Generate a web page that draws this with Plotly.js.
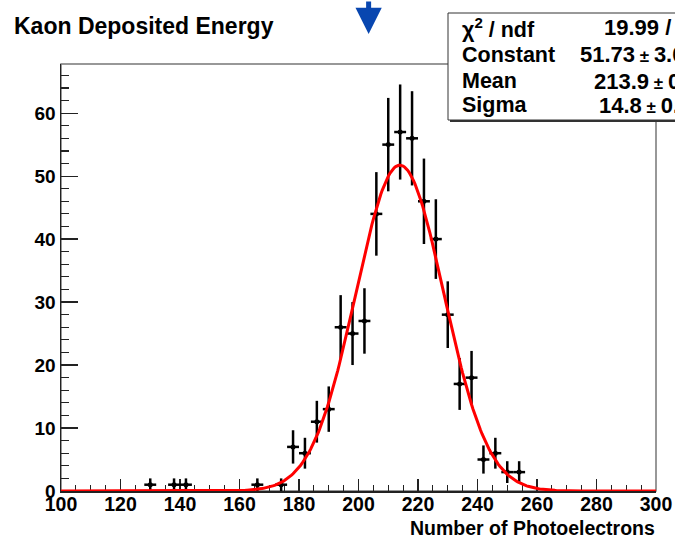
<!DOCTYPE html>
<html>
<head>
<meta charset="utf-8">
<script src="https://cdn.plot.ly/plotly-3.0.1.min.js"></script>
<style>
html,body{margin:0;padding:0;background:#fff;overflow:hidden;}
#chart{width:675px;height:538px;}
</style>
</head>
<body>
<div id="chart"></div>
<script>
// ---- data ----
const binCenters = [130, 138, 142, 166, 174, 178, 182, 186, 190, 194, 198, 202, 206, 210, 214, 218, 222, 226, 230, 234, 238, 242, 246, 250, 254];
const counts     = [1,   1,   1,   1,   1,   7,   6,   11,  13,  26,  25,  27,  44,  55,  57,  56,  46,  40,  28,  17,  18,  5,   6,   3,   3];
const halfBinWidth = 2;

// Gaussian fit parameters shown in the stats box
const fitConstant = 51.73;
const fitMean = 213.9;
const fitSigma = 14.8;
const fitRange = [100, 300];

const statLabels = ["χ<sup>2</sup> / ndf", "Constant", "Mean", "Sigma"];
const statNumbers = ["19.99", "51.73", "213.9", "14.8"];
const statSeparators = ["/", "±", "±", "±"];
const statErrors = ["22", "3.05", "0.8", "0.7"];

const xTicks = [100, 120, 140, 160, 180, 200, 220, 240, 260, 280, 300];
const yTicks = [0, 10, 20, 30, 40, 50, 60];

// ---- layout helpers (pixel -> paper) ----
const W = 675, H = 538;
const M = {l: 61, r: 19, t: 64, b: 47};
const PW = W - M.l - M.r, PH = H - M.t - M.b;
const pX = px => (px - M.l) / PW;
const pY = py => 1 - (py - M.t) / PH;

// fit curve from the fit parameters
const fitX = [], fitY = [];
for (let x = fitRange[0]; x <= fitRange[1] + 1e-9; x += 0.5) {
  fitX.push(x);
  fitY.push(fitConstant * Math.exp(-0.5 * Math.pow((x - fitMean) / fitSigma, 2)));
}

const FONT = "Liberation Sans, Arial, Helvetica, sans-serif";

const traces = [
  {
    type: "scatter", mode: "markers",
    x: binCenters, y: counts,
    marker: {color: "#000", size: 5},
    error_y: {type: "sqrt", color: "#000", thickness: 2.5, width: 0},
    error_x: {type: "constant", value: halfBinWidth, color: "#000", thickness: 2.5, width: 0},
    cliponaxis: false, hoverinfo: "x+y"
  },
  {
    type: "scatter", mode: "lines",
    x: fitX, y: fitY,
    line: {color: "#ff0000", width: 3},
    cliponaxis: false, hoverinfo: "skip"
  }
];

const annotations = [];
annotations.push({
  xref: "paper", yref: "paper", x: pX(12), y: pY(26), xanchor: "left", yanchor: "middle",
  text: "Kaon Deposited Energy", showarrow: false,
  font: {family: FONT, size: 23, color: "#000", weight: "bold"}
});
annotations.push({
  xref: "paper", yref: "paper", x: pX(657), y: pY(528), xanchor: "right", yanchor: "middle",
  text: "Number of Photoelectrons", showarrow: false,
  font: {family: FONT, size: 19.5, color: "#000", weight: "bold"}
});
// arrow
annotations.push({
  xref: "x", yref: "paper", x: 203.4, y: pY(34), text: "", showarrow: true,
  ax: 0, ay: -38, arrowhead: 2, arrowsize: 1.05, arrowwidth: 5, arrowcolor: "#0846b0", standoff: 0
});
// stats box text
const rowY = [28, 54.5, 81, 105];
const valStart = [602, 578, 592, 597];
const gap = "<span style='font-size:17px'>\u00A0</span>";
for (let i = 0; i < statLabels.length; i++) {
  annotations.push({
    xref: "paper", yref: "paper", x: pX(460), y: pY(rowY[i]), xanchor: "left", yanchor: "middle",
    text: statLabels[i], showarrow: false,
    font: {family: FONT, size: 21.5, color: "#000", weight: "bold"}
  });
  const txt = statSeparators[i] === "±"
    ? statNumbers[i] + gap + "<span style='font-size:17px'>±</span>" + gap + statErrors[i]
    : statNumbers[i] + " / " + statErrors[i];
  annotations.push({
    xref: "paper", yref: "paper", x: pX(valStart[i]), y: pY(rowY[i]), xanchor: "left", yanchor: "middle",
    text: txt, showarrow: false,
    font: {family: FONT, size: 22, color: "#000", weight: "bold"}
  });
}

const shapes = [
  // frame
  {type: "rect", xref: "paper", yref: "paper", x0: 0, x1: 1, y0: 0, y1: 1,
   line: {color: "#777", width: 1.5}, layer: "below"},
  // stats box shadow
  {type: "rect", xref: "paper", yref: "paper", x0: pX(450), x1: pX(720), y0: pY(122), y1: pY(15),
   line: {width: 0}, fillcolor: "#333", layer: "above"},
  // stats box
  {type: "rect", xref: "paper", yref: "paper", x0: pX(448), x1: pX(718), y0: pY(120), y1: pY(13),
   line: {color: "#333", width: 1}, fillcolor: "#fff", layer: "above"}
];

const layout = {
  width: W, height: H,
  margin: M,
  paper_bgcolor: "#fff", plot_bgcolor: "#fff",
  showlegend: false,
  font: {family: FONT, color: "#000"},
  xaxis: {
    range: [100, 300], showgrid: false, zeroline: false,
    showline: true, linecolor: "#222", linewidth: 1.5,
    tickmode: "array", tickvals: xTicks, ticktext: xTicks.map(String),
    ticks: "inside", ticklen: 12, tickwidth: 1.2, tickcolor: "#222",
    minor: {dtick: 5, ticks: "inside", ticklen: 6, tickwidth: 1.2, tickcolor: "#222", showgrid: false},
    tickfont: {family: FONT, size: 19.5, color: "#000", weight: "bold"},
    ticklabelstandoff: -5,
    layer: "below traces", fixedrange: true
  },
  yaxis: {
    range: [0, 67.8], showgrid: false, zeroline: false,
    showline: true, linecolor: "#222", linewidth: 1.5,
    tickmode: "array", tickvals: yTicks, ticktext: yTicks.map(String),
    ticks: "inside", ticklen: 17, tickwidth: 1.2, tickcolor: "#222",
    minor: {dtick: 2, ticks: "inside", ticklen: 8, tickwidth: 1.2, tickcolor: "#222", showgrid: false},
    tickfont: {family: FONT, size: 19, color: "#000", weight: "bold"},
    layer: "below traces", fixedrange: true
  },
  shapes: shapes,
  annotations: annotations
};

Plotly.newPlot("chart", traces, layout, {displayModeBar: false, staticPlot: true});
</script>
</body>
</html>
